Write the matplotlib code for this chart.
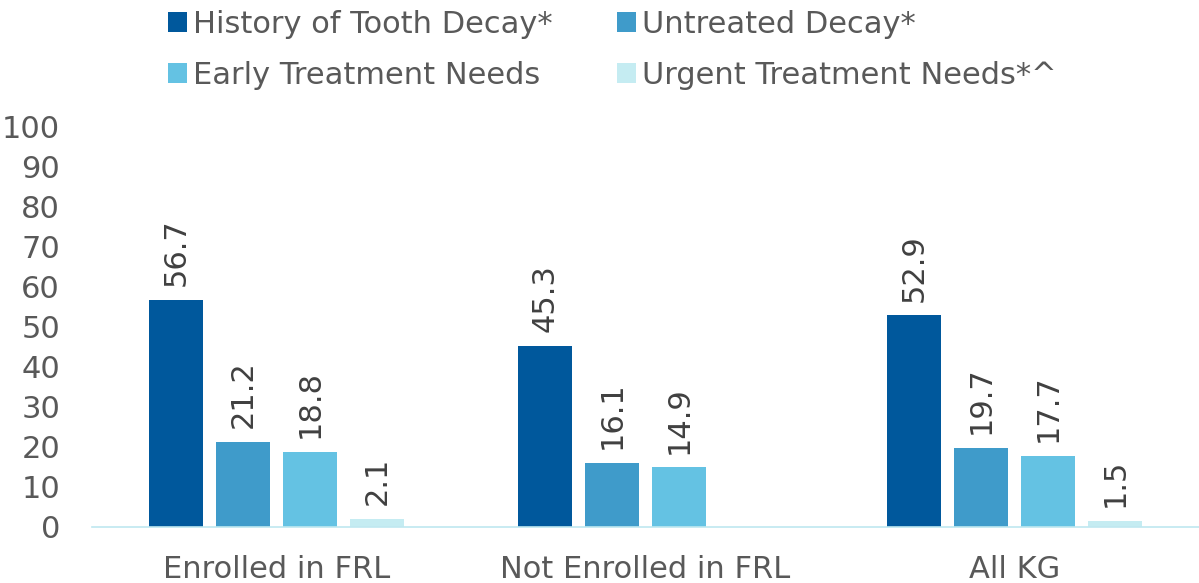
import numpy as np
import matplotlib
matplotlib.use("Agg")
import matplotlib.pyplot as plt
from matplotlib.patches import Patch

categories = ["Enrolled in FRL", "Not Enrolled in FRL", "All KG"]
series_names = ["History of Tooth Decay*", "Untreated Decay*",
                "Early Treatment Needs", "Urgent Treatment Needs*^"]
history = [56.7, 45.3, 52.9]
untreated = [21.2, 16.1, 19.7]
early = [18.8, 14.9, 17.7]
urgent = [2.1, np.nan, 1.5]
yticks = [0, 10, 20, 30, 40, 50, 60, 70, 80, 90, 100]

series = [history, untreated, early, urgent]
colors = ["#00589C", "#3F9BCA", "#64C2E3", "#C5ECF2"]

plt.rcParams['font.family'] = ['DejaVu Sans']
FS = 22
fig = plt.figure(figsize=(11.99, 5.83), dpi=100)
ax = fig.add_axes([92/1199, 56/583, 1 - 92/1199, 400/583])

x = np.arange(len(categories))
width = 54/369
pitch = 67/369
for i, (vals, c) in enumerate(zip(series, colors)):
    offs = (i - 1.5) * pitch
    v = np.array(vals, dtype=float)
    mask = ~np.isnan(v)
    bars = ax.bar(x[mask] + offs, v[mask], width=width, color=c)
    for b, val in zip(bars, v[mask]):
        ax.annotate(f"{val:.1f}", (b.get_x() + b.get_width()/2, val),
                    xytext=(0, 10), textcoords="offset points",
                    rotation=90, ha="center", va="bottom",
                    fontsize=FS, color="#404040")

ax.set_xlim(-0.5, 2.5)
ax.set_ylim(0, 100)
ax.set_yticks(yticks)
ax.set_xticks(x)
ax.set_xticklabels(categories)
for s in ["top", "right", "left"]:
    ax.spines[s].set_visible(False)
ax.spines["bottom"].set_color("#BFE8F0")
ax.spines["bottom"].set_linewidth(1.2)
ax.tick_params(axis="both", length=0, labelsize=FS, colors="#595959")
ax.tick_params(axis="y", pad=23)
ax.tick_params(axis="x", pad=20)

# row-wise legend order: matplotlib fills columns first
order = [0, 2, 1, 3]
handles = [Patch(facecolor=colors[k], edgecolor="none") for k in order]
labels = [series_names[k] for k in order]
fig.legend(handles, labels, ncol=2, loc="upper left",
           bbox_to_anchor=(168/1199, 1 - 10/583), frameon=False,
           fontsize=FS, labelcolor="#595959",
           borderpad=0, borderaxespad=0,
           handlelength=0.62, handleheight=0.62, handletextpad=0.2,
           columnspacing=2.1, labelspacing=0.72)

fig.savefig("out.png", dpi=100)
